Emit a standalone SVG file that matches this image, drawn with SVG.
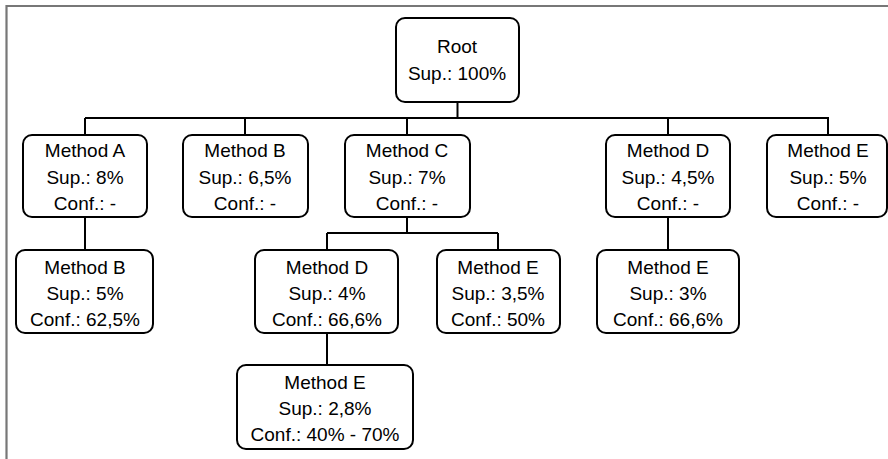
<svg xmlns="http://www.w3.org/2000/svg" width="888" height="459" viewBox="0 0 888 459">
<style>
.box{fill:#fff;stroke:#000;stroke-width:2}
.t{font-family:"Liberation Sans",Arial,sans-serif;font-size:19px;fill:#000;text-anchor:middle}
.c{stroke:#000;stroke-width:2;fill:none}
</style>
<rect x="0" y="0" width="888" height="459" fill="#fff"/>
<path d="M6.5,459 V6 H888" fill="none" stroke="#777" stroke-width="2.2"/>
<g id="connectors">
<path class="c" d="M457.5,102 V118" stroke-width="3"/>
<path class="c" d="M85,118 H829" stroke-width="2.6"/>
<path class="c" d="M85,118 V135 M245,118 V135 M407,118 V135 M668,118 V135 M828,118 V135"/>
<path class="c" d="M85,217 V250"/>
<path class="c" d="M407,217 V233 M327,233 H498 M327,233 V250 M498,233 V250"/>
<path class="c" d="M668,217 V250"/>
<path class="c" d="M327,333 V365"/>
</g>
<g id="root"><rect class="box" x="396" y="18" width="123" height="84" rx="9"/>
<text class="t" x="457" y="53">Root</text><text class="t" x="457" y="80">Sup.: 100%</text></g>
<g id="methodA"><rect class="box" x="23" y="135" width="124" height="82" rx="9"/>
<text class="t" x="85" y="157">Method A</text><text class="t" x="85" y="184">Sup.: 8%</text><text class="t" x="85" y="210">Conf.: -</text></g>
<g id="methodB"><rect class="box" x="183" y="135" width="125" height="82" rx="9"/>
<text class="t" x="245" y="157">Method B</text><text class="t" x="245" y="184">Sup.: 6,5%</text><text class="t" x="245" y="210">Conf.: -</text></g>
<g id="methodC"><rect class="box" x="345" y="135" width="125" height="82" rx="9"/>
<text class="t" x="407" y="157">Method C</text><text class="t" x="407" y="184">Sup.: 7%</text><text class="t" x="407" y="210">Conf.: -</text></g>
<g id="methodD"><rect class="box" x="606" y="135" width="124" height="82" rx="9"/>
<text class="t" x="668" y="157">Method D</text><text class="t" x="668" y="184">Sup.: 4,5%</text><text class="t" x="668" y="210">Conf.: -</text></g>
<g id="methodE"><rect class="box" x="767" y="135" width="120" height="82" rx="9"/>
<text class="t" x="828" y="157">Method E</text><text class="t" x="828" y="184">Sup.: 5%</text><text class="t" x="828" y="210">Conf.: -</text></g>
<g id="A_B"><rect class="box" x="16" y="250" width="137" height="83" rx="9"/>
<text class="t" x="85" y="274">Method B</text><text class="t" x="85" y="300">Sup.: 5%</text><text class="t" x="85" y="326">Conf.: 62,5%</text></g>
<g id="C_D"><rect class="box" x="255" y="250" width="143" height="83" rx="9"/>
<text class="t" x="327" y="274">Method D</text><text class="t" x="327" y="300">Sup.: 4%</text><text class="t" x="327" y="326">Conf.: 66,6%</text></g>
<g id="C_E"><rect class="box" x="437" y="250" width="123" height="83" rx="9"/>
<text class="t" x="498" y="274">Method E</text><text class="t" x="498" y="300">Sup.: 3,5%</text><text class="t" x="498" y="326">Conf.: 50%</text></g>
<g id="D_E"><rect class="box" x="597" y="250" width="142" height="83" rx="9"/>
<text class="t" x="668" y="274">Method E</text><text class="t" x="668" y="300">Sup.: 3%</text><text class="t" x="668" y="326">Conf.: 66,6%</text></g>
<g id="C_D_E"><rect class="box" x="237" y="365" width="176" height="84" rx="9"/>
<text class="t" x="325" y="389">Method E</text><text class="t" x="325" y="415">Sup.: 2,8%</text><text class="t" x="325" y="441">Conf.: 40% - 70%</text></g>
</svg>
